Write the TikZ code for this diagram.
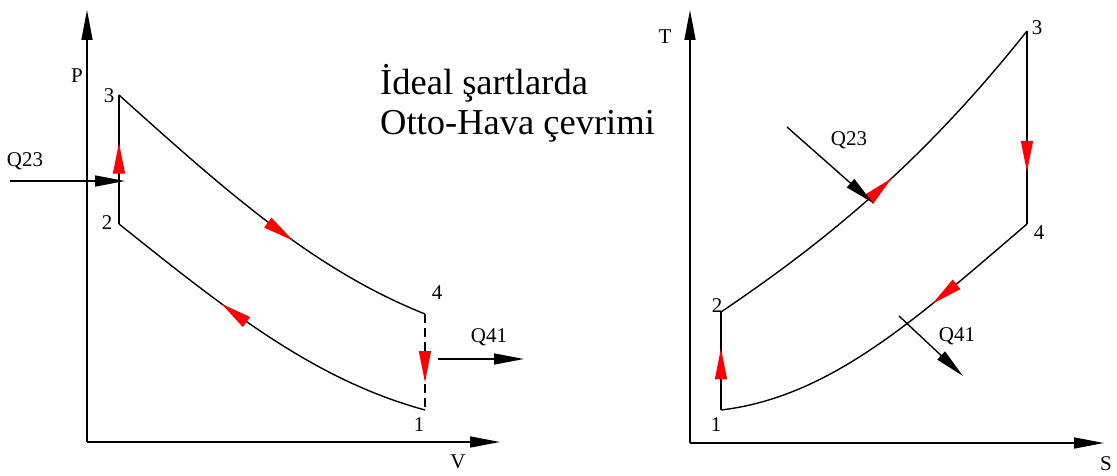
\documentclass[tikz,border=0pt]{standalone}
\usepackage{fontspec}
\setmainfont{Liberation Serif}
\usetikzlibrary{arrows.meta,decorations.markings}
\tikzset{
  axis/.style={line width=1.5pt, -{Triangle[length=30pt,width=11pt]}},
  cyc/.style={line width=1.4pt},
  heat/.style={line width=1.4pt, -{Triangle[length=30pt,width=11pt]}},
  lbl/.style={font=\fontsize{21}{23}\selectfont, inner sep=0pt},
  ttl/.style={font=\fontsize{36.5}{40}\selectfont, inner sep=0pt, anchor=base west},
  redmark/.style={postaction={decorate, solid}, decoration={markings, mark=at position #1 with {\arrow{Triangle[length=31pt,width=12pt,color=red,fill=red]}}}},
}
\begin{document}
\begin{tikzpicture}[x=1pt,y=-1pt]
\useasboundingbox (0,0) rectangle (1117,476);
% ---------- left P-V diagram ----------
\coordinate (LO) at (87,442);
\coordinate (LPtip) at (87,10);
\coordinate (LVtip) at (500,442);
\draw[axis] (LO) -- (LPtip);
\draw[axis] (LO) -- (LVtip);
\coordinate (L3) at (119,95);
\coordinate (L2) at (119,224);
\coordinate (L4) at (425,314);
\coordinate (L1) at (425,410);
\draw[cyc, redmark=0.63] (L2) -- (L3);
\draw[cyc, redmark=0.6] (L3) .. controls (229,194) and (315,270) .. (L4);
\draw[cyc, dash pattern=on 9pt off 5pt, redmark=0.71] (L4) -- (L1);
\draw[cyc, redmark=0.64] (L1) .. controls (315,380) and (229,312) .. (L2);
\coordinate (LQ23s) at (10,181);
\coordinate (LQ23e) at (125,181);
\draw[heat] (LQ23s) -- (LQ23e);
\coordinate (LQ41s) at (438,359);
\coordinate (LQ41e) at (524,359);
\draw[heat] (LQ41s) -- (LQ41e);
\node[lbl] (lP) at (77,76) {P};
\node[lbl] (lV) at (458,462) {V};
\node[lbl] (l3) at (109,96) {3};
\node[lbl] (l2) at (107,223) {2};
\node[lbl] (l4) at (437,293) {4};
\node[lbl] (l1) at (419,425) {1};
\node[lbl] (lq23) at (25,161) {Q23};
\node[lbl] (lq41) at (489,337) {Q41};
% ---------- title ----------
\node[ttl] (t1) at (380,95) {İdeal şartlarda};
\node[ttl] (t2) at (380,135) {Otto-Hava çevrimi};
% ---------- right T-S diagram ----------
\coordinate (RO) at (690,443);
\coordinate (RTtip) at (690,10);
\coordinate (RStip) at (1104,443);
\draw[axis] (RO) -- (RTtip);
\draw[axis] (RO) -- (RStip);
\coordinate (R1) at (721,410);
\coordinate (R2) at (721,312);
\coordinate (R3) at (1027,31);
\coordinate (R4) at (1027,224);
\draw[cyc, redmark=0.63] (R1) -- (R2);
\draw[cyc, redmark=0.52] (R2) .. controls (826,241) and (922,163) .. (R3);
\draw[cyc, redmark=0.73] (R3) -- (R4);
\draw[cyc, redmark=0.34] (R4) .. controls (917,318) and (831,397) .. (R1);
\coordinate (RQ23s) at (787,127);
\coordinate (RQ23e) at (873,203);
\draw[heat] (RQ23s) -- (RQ23e);
\coordinate (RQ41s) at (899,316);
\coordinate (RQ41e) at (963,376);
\draw[heat] (RQ41s) -- (RQ41e);
\node[lbl] (rT) at (665,37) {T};
\node[lbl] (rS) at (1106,464) {S};
\node[lbl] (r3) at (1037,28) {3};
\node[lbl] (r4) at (1039,233) {4};
\node[lbl] (r2) at (717,306) {2};
\node[lbl] (r1) at (716,425) {1};
\node[lbl] (rq23) at (849,140) {Q23};
\node[lbl] (rq41) at (957,336) {Q41};
\end{tikzpicture}
\end{document}
